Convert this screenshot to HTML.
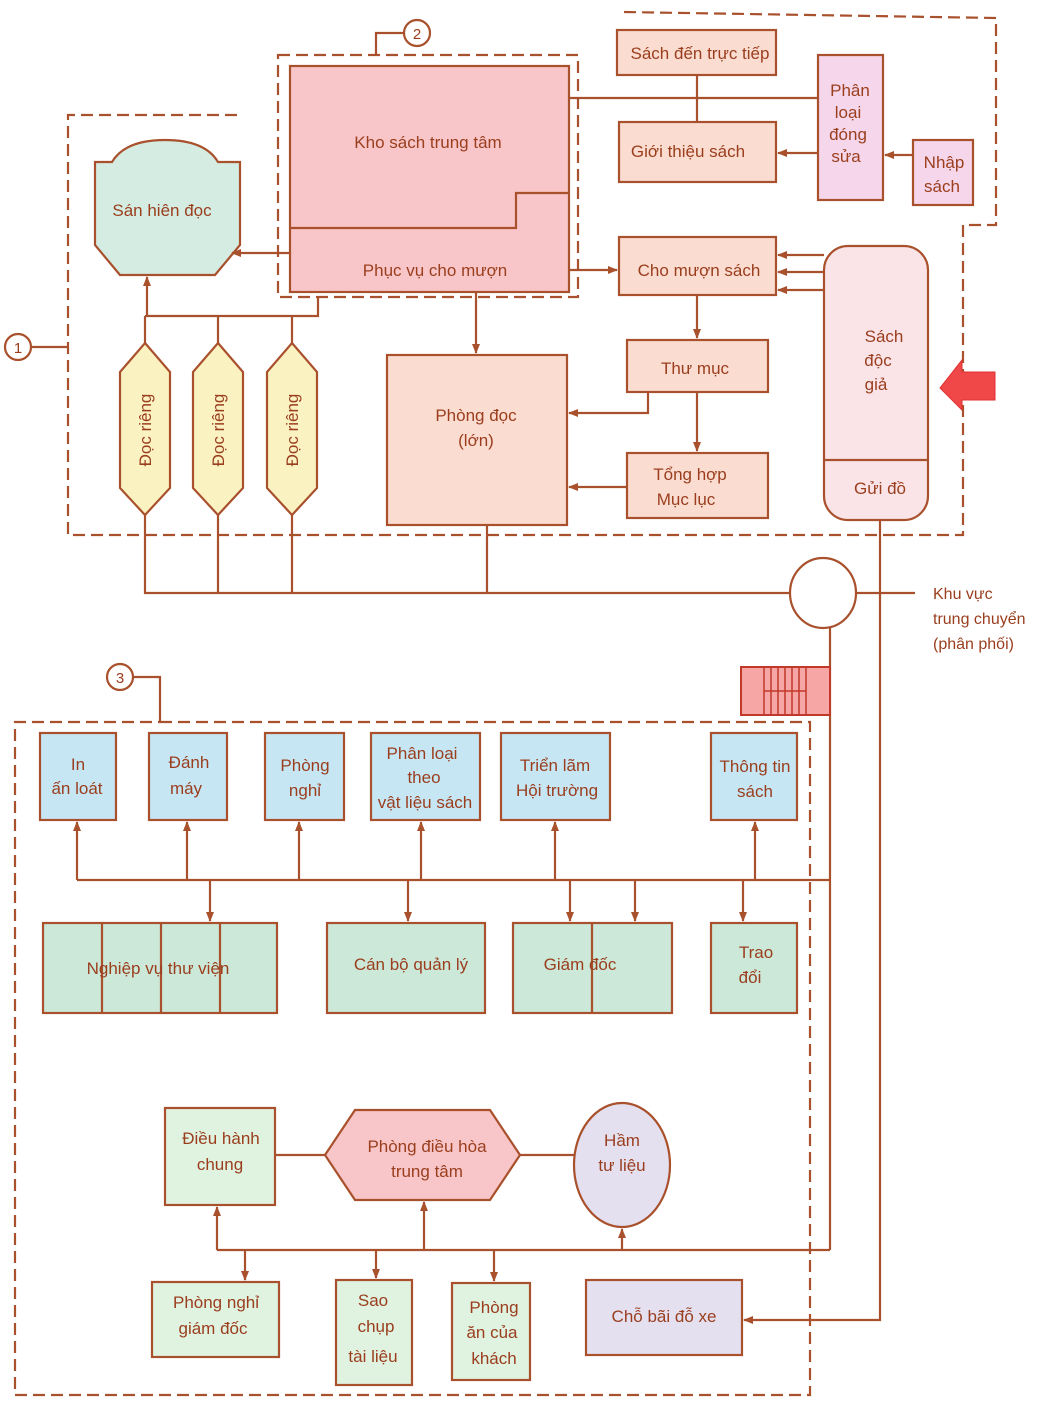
<!DOCTYPE html>
<html><head><meta charset="utf-8"><style>
html,body{margin:0;padding:0;background:#fff}
svg{display:block}
text{font-family:"Liberation Sans",sans-serif;font-size:17px;fill:#9a3e1e;text-anchor:middle}
.b{stroke:#a9502c;stroke-width:2.2;fill:none}
.d{stroke:#a9502c;stroke-width:2.2;fill:none;stroke-dasharray:12 6}
.f{stroke:#a9502c;stroke-width:2.2}
</style></head><body>
<svg width="1042" height="1405" viewBox="0 0 1042 1405" xmlns="http://www.w3.org/2000/svg">
<defs><marker id="a" markerWidth="10" markerHeight="8" refX="9" refY="4" orient="auto" markerUnits="userSpaceOnUse"><path d="M0,0 L10,4 L0,8 z" fill="#a9502c"/></marker></defs>

<!-- dashed groups -->
<path class="d" d="M237,115 H68 V535 H963 V225 H996 V18 L623,12"/>
<rect class="d" x="278" y="55" width="300" height="242"/>
<path class="d" d="M160,722 H810 V1395 H15 V722 H160"/>
<circle class="b" cx="417" cy="33" r="13"/><text x="417" y="39" style="font-size:15px">2</text>
<path class="b" d="M404,33 H376 V55"/>
<circle class="b" cx="18" cy="347" r="13"/><text x="18" y="353" style="font-size:15px">1</text>
<path class="b" d="M31,347 H68"/>
<circle class="b" cx="120" cy="677" r="13"/><text x="120" y="683" style="font-size:15px">3</text>
<path class="b" d="M133,677 H160 V722"/>

<!-- Kho -->
<rect class="f" x="290" y="66" width="279" height="226" fill="#f8c6c8"/>
<path class="b" d="M290,228 H516 V193 H569"/>
<text x="428" y="148">Kho sách trung tâm</text>
<text x="435" y="276">Phục vụ cho mượn</text>

<!-- San hien doc -->
<path class="f" fill="#d4ece2" d="M95,162 H112 Q125,140 165,140 Q205,140 218,162 H240 V245 L215,275 H120 L95,245 Z"/>
<text x="162" y="216">Sán hiên đọc</text>
<path class="b" d="M290,253 H232" marker-end="url(#a)"/>

<!-- Doc rieng -->
<g fill="#fbf2c2">
<path class="f" d="M145,343 L170,372 V488 L145,515 L120,488 V372 Z"/>
<path class="f" d="M218,343 L243,372 V488 L218,515 L193,488 V372 Z"/>
<path class="f" d="M292,343 L317,372 V488 L292,515 L267,488 V372 Z"/>
</g>
<text transform="translate(151,430) rotate(-90)">Đọc riêng</text>
<text transform="translate(224,430) rotate(-90)">Đọc riêng</text>
<text transform="translate(298,430) rotate(-90)">Đọc riêng</text>
<path class="b" d="M145,343 V316" /><path class="b" d="M145,316 H318 V297"/>
<path class="b" d="M147,316 V277" marker-end="url(#a)"/>
<path class="b" d="M218,316 V343"/><path class="b" d="M292,316 V343"/>
<path class="b" d="M145,515 V593 H790"/><path class="b" d="M218,515 V593"/><path class="b" d="M292,515 V593"/><path class="b" d="M487,525 V593"/>

<!-- Phong doc -->
<rect class="f" x="387" y="355" width="180" height="170" fill="#fbdcd0"/>
<text x="476" y="421">Phòng đọc</text><text x="476" y="446">(lớn)</text>
<path class="b" d="M476,292 V353" marker-end="url(#a)"/>

<!-- right top -->
<g fill="#fbdcd0">
<rect class="f" x="617" y="30" width="159" height="45"/>
<rect class="f" x="619" y="122" width="157" height="60"/>
<rect class="f" x="619" y="237" width="157" height="58"/>
<rect class="f" x="627" y="340" width="141" height="52"/>
<rect class="f" x="627" y="453" width="141" height="65"/>
</g>
<text x="700" y="59">Sách đến trực tiếp</text>
<text x="688" y="157">Giới thiệu sách</text>
<text x="699" y="276">Cho mượn sách</text>
<text x="695" y="374">Thư mục</text>
<text x="690" y="480">Tổng hợp</text><text x="686" y="505">Mục lục</text>
<path class="b" d="M697,75 V122"/>
<rect class="f" x="818" y="55" width="65" height="145" fill="#f6d6ea"/>
<text x="850" y="96">Phân</text><text x="848" y="118">loại</text><text x="848" y="140">đóng</text><text x="846" y="162">sửa</text>
<rect class="f" x="913" y="140" width="60" height="65" fill="#f6d6ea"/>
<text x="944" y="168">Nhập</text><text x="942" y="192">sách</text>
<path class="b" d="M569,98 H818"/>
<path class="b" d="M818,153 H778" marker-end="url(#a)"/>
<path class="b" d="M913,155 H885" marker-end="url(#a)"/>
<path class="b" d="M569,270 H617" marker-end="url(#a)"/>
<path class="b" d="M697,295 V338" marker-end="url(#a)"/>
<path class="b" d="M697,392 V451" marker-end="url(#a)"/>
<path class="b" d="M648,392 V413 H569" marker-end="url(#a)"/>
<path class="b" d="M627,487 H569" marker-end="url(#a)"/>

<!-- Sach doc gia -->
<rect class="f" x="824" y="246" width="104" height="274" rx="24" fill="#fbe4e8"/>
<path class="b" d="M824,460 H928"/>
<text x="884" y="342">Sách</text><text x="878" y="366">độc</text><text x="876" y="390">giả</text>
<text x="880" y="494">Gửi đồ</text>
<path class="b" d="M824,255 H778" marker-end="url(#a)"/>
<path class="b" d="M824,272 H778" marker-end="url(#a)"/>
<path class="b" d="M824,290 H778" marker-end="url(#a)"/>
<path d="M995,372 H962 V360 L940,388 L962,410 V400 H995 Z" fill="#f04848" stroke="#e03030"/>
<path class="b" d="M880,520 V1320 H744" marker-end="url(#a)"/>

<!-- Khu vuc -->
<ellipse class="b" cx="823" cy="593" rx="33" ry="35"/>
<path class="b" d="M856,593 H915"/>
<text x="933" y="599" style="text-anchor:start;font-size:16px">Khu vực</text>
<text x="933" y="624" style="text-anchor:start;font-size:16px">trung chuyển</text>
<text x="933" y="649" style="text-anchor:start;font-size:16px">(phân phối)</text>
<path class="b" d="M830,628 V1250"/>
<rect x="741" y="667" width="89" height="48" fill="#f7a6a6" stroke="#c0392b" stroke-width="2"/>
<path d="M764,667 V715 M771,667 V715 M778,667 V715 M785,667 V715 M792,667 V715 M799,667 V715 M806,667 V715 M764,691 H806" stroke="#c0392b" stroke-width="1.5"/>

<!-- group 3 top -->
<g fill="#c6e6f4">
<rect class="f" x="40" y="733" width="76" height="87"/>
<rect class="f" x="149" y="733" width="78" height="87"/>
<rect class="f" x="265" y="733" width="79" height="87"/>
<rect class="f" x="371" y="733" width="109" height="87"/>
<rect class="f" x="501" y="733" width="109" height="87"/>
<rect class="f" x="711" y="733" width="86" height="87"/>
</g>
<text x="78" y="770">In</text><text x="77" y="794">ấn loát</text>
<text x="189" y="768">Đánh</text><text x="186" y="794">máy</text>
<text x="305" y="771">Phòng</text><text x="305" y="796">nghỉ</text>
<text x="422" y="759">Phân loại</text><text x="424" y="783">theo</text><text x="425" y="808">vật liệu sách</text>
<text x="555" y="771">Triển lãm</text><text x="557" y="796">Hội trường</text>
<text x="755" y="772">Thông tin</text><text x="755" y="797">sách</text>
<path class="b" d="M77,880 H830"/>
<path class="b" d="M77,880 V822" marker-end="url(#a)"/>
<path class="b" d="M187,880 V822" marker-end="url(#a)"/>
<path class="b" d="M299,880 V822" marker-end="url(#a)"/>
<path class="b" d="M421,880 V822" marker-end="url(#a)"/>
<path class="b" d="M555,880 V822" marker-end="url(#a)"/>
<path class="b" d="M755,880 V822" marker-end="url(#a)"/>
<path class="b" d="M210,880 V921" marker-end="url(#a)"/>
<path class="b" d="M408,880 V921" marker-end="url(#a)"/>
<path class="b" d="M570,880 V921" marker-end="url(#a)"/>
<path class="b" d="M635,880 V921" marker-end="url(#a)"/>
<path class="b" d="M743,880 V921" marker-end="url(#a)"/>
<g fill="#cce8d8">
<rect class="f" x="43" y="923" width="234" height="90"/>
<rect class="f" x="327" y="923" width="158" height="90"/>
<rect class="f" x="513" y="923" width="159" height="90"/>
<rect class="f" x="711" y="923" width="86" height="90"/>
</g>
<path class="b" d="M102,923 V1013 M161,923 V1013 M220,923 V1013 M592,923 V1013"/>
<text x="158" y="974">Nghiệp vụ thư viện</text>
<text x="411" y="970">Cán bộ quản lý</text>
<text x="580" y="970">Giám đốc</text>
<text x="756" y="958">Trao</text><text x="750" y="983">đổi</text>

<!-- bottom -->
<rect class="f" x="165" y="1108" width="110" height="97" fill="#e0f2e0"/>
<text x="221" y="1144">Điều hành</text><text x="220" y="1170">chung</text>
<path class="f" fill="#f8c6c8" d="M325,1155 L355,1110 H490 L520,1155 L490,1200 H355 Z"/>
<text x="427" y="1152">Phòng điều hòa</text><text x="427" y="1177">trung tâm</text>
<ellipse class="f" cx="622" cy="1165" rx="48" ry="62" fill="#e4e0f0"/>
<text x="622" y="1146">Hầm</text><text x="622" y="1171">tư liệu</text>
<path class="b" d="M275,1155 H325 M520,1155 H574"/>
<path class="b" d="M217,1250 H830"/>
<path class="b" d="M217,1250 V1207" marker-end="url(#a)"/>
<path class="b" d="M424,1250 V1202" marker-end="url(#a)"/>
<path class="b" d="M622,1250 V1229" marker-end="url(#a)"/>
<path class="b" d="M245,1250 V1280" marker-end="url(#a)"/>
<path class="b" d="M376,1250 V1278" marker-end="url(#a)"/>
<path class="b" d="M494,1250 V1281" marker-end="url(#a)"/>
<g fill="#e0f2e0">
<rect class="f" x="152" y="1282" width="127" height="75"/>
<rect class="f" x="336" y="1280" width="76" height="105"/>
<rect class="f" x="452" y="1283" width="78" height="97"/>
</g>
<text x="216" y="1308">Phòng nghỉ</text><text x="213" y="1334">giám đốc</text>
<text x="373" y="1306">Sao</text><text x="376" y="1332">chụp</text><text x="373" y="1362">tài liệu</text>
<text x="494" y="1313">Phòng</text><text x="492" y="1338">ăn của</text><text x="494" y="1364">khách</text>
<rect class="f" x="586" y="1280" width="156" height="75" fill="#e4e0f0"/>
<text x="664" y="1322">Chỗ bãi đỗ xe</text>
</svg>
</body></html>
